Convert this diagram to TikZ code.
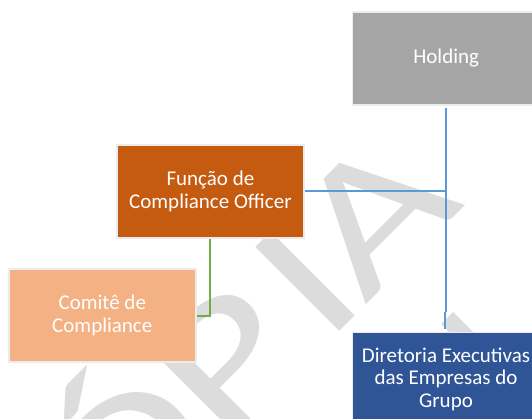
\documentclass[tikz,border=0pt]{standalone}
\usepackage{fontspec}
\setmainfont{Carlito}
\newfontfamily\wmfont{Carlito}
\definecolor{holdgray}{HTML}{A5A5A5}
\definecolor{funcorange}{HTML}{C55A11}
\definecolor{compeach}{HTML}{F4B183}
\definecolor{dirblue}{HTML}{2F5597}
\definecolor{lineblue}{HTML}{5B9BD5}
\definecolor{linegreen}{HTML}{70AD47}
\definecolor{wmgray}{RGB}{220,220,220}
\definecolor{boxedge}{RGB}{236,236,236}
\begin{document}
\begin{tikzpicture}[x=1pt,y=1pt,
  orgbox/.style={draw=boxedge, line width=1.5pt, minimum width=187pt, minimum height=93pt,
    inner sep=0pt, text=white, align=center, font=\fontsize{21}{22.6}\selectfont},
  wmletter/.style={text=wmgray, inner sep=0pt, anchor=base, rotate=45,
    font=\wmfont\fontsize{185}{185}\selectfont},
  blueline/.style={draw=lineblue, line width=2pt},
  greenline/.style={draw=linegreen, line width=2pt}]
\useasboundingbox (0,0) rectangle (532,-419);
\fill[white] (0,0) rectangle (532,-419);
\begin{scope}
  \clip (0,0) rectangle (532,-419);
  \node[wmletter] (wC) at (64.0,-607.0) {\scalebox{1.33}[1]{C}};
  \node[wmletter] (wO) at (167.9,-503.1) {\scalebox{1.33}[1]{Ó}};
  \node[wmletter] (wP) at (268.5,-402.5) {\scalebox{1.33}[1]{P}};
  \node[wmletter] (wI) at (347.5,-323.5) {\scalebox{1.33}[1]{I}};
  \node[wmletter] (wA) at (415.4,-255.6) {\scalebox{1.33}[1]{A}};
  \fill[wmgray] (441,-324) -- (453,-312) -- (485,-344) -- (473,-356) -- cycle;
\end{scope}
\node[orgbox, fill=holdgray] (holding) at (446.2,-58.4) {Holding};
\node[orgbox, fill=funcorange] (func) at (210.4,-191.4) {Função de\\Compliance Officer};
\node[orgbox, fill=compeach] (com) at (102.3,-315.5) {Comitê de\\Compliance};
\node[orgbox, fill=dirblue] (dir) at (446.0,-379.2) {Diretoria Executivas\\das Empresas do\\Grupo};
\coordinate (jog) at (445.7,-311.7);
\draw[blueline] ([yshift=-2.5pt]holding.south) -- (holding.south |- jog);
\draw[blueline] ([xshift=-1.5pt]holding.south |- jog) -- ([xshift=-1.5pt,yshift=2.5pt]holding.south |- dir.north);
\draw[blueline] (func.east) -- (func.east -| holding.south);
\draw[greenline] (func.south) |- (com.east);
\end{tikzpicture}
\end{document}
